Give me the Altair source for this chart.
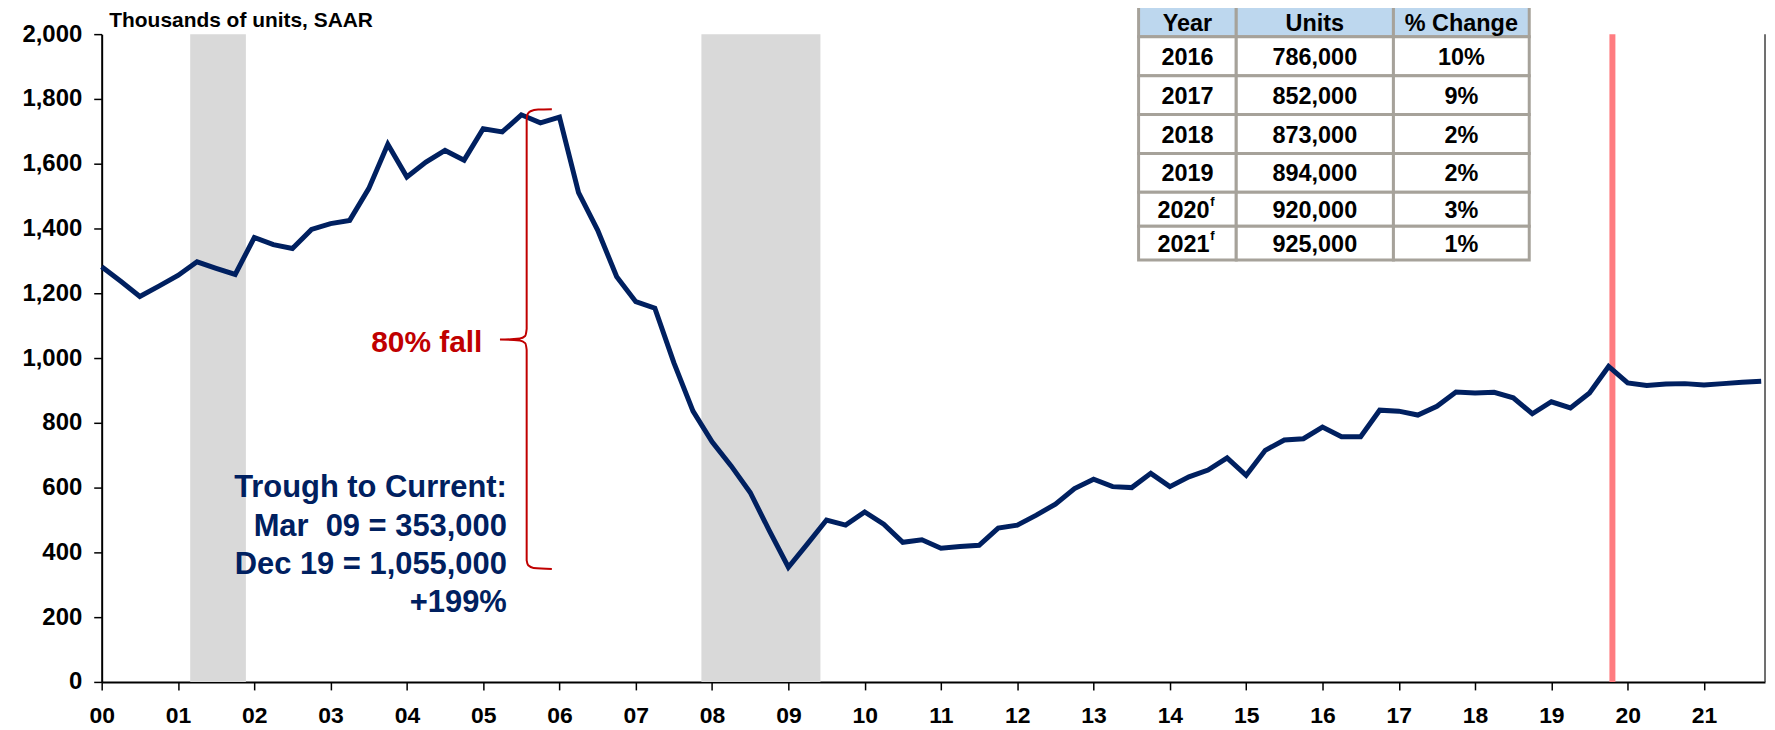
import altair as alt
import pandas as pd

# ---------------- data ----------------
first_year = 2000
housing_starts = [
    1282, 1237, 1190, 1222,   # 2000
    1255, 1297, 1277, 1258,   # 2001
    1372, 1350, 1338, 1397,   # 2002
    1415, 1425, 1523, 1660,   # 2003
    1559, 1605, 1641, 1611,   # 2004
    1708, 1698, 1751, 1726,   # 2005
    1744, 1511, 1395, 1251,   # 2006
    1174, 1154, 985, 836,     # 2007
    741, 667, 585, 467,       # 2008
    354, 426, 500, 484,       # 2009
    525, 487, 431, 439,       # 2010
    413, 418, 422, 475,       # 2011
    484, 515, 549, 597,       # 2012
    626, 603, 600, 644,       # 2013
    603, 633, 654, 692,       # 2014
    638, 715, 747, 751,       # 2015
    787, 757, 757, 839,       # 2016
    836, 824, 851, 895,       # 2017
    892, 894, 877, 828,       # 2018
    865, 846, 892, 974,       # 2019
    923, 915, 920, 921,       # 2020
    917, 921, 925, 928,       # 2021
]

recession_start = [1.16, 7.86]
recession_end = [1.89, 9.42]
marker_year = [19.8]

tick_years = list(range(22))
y_ticks = list(range(0, 2001, 200))

table_header = ["Year", "Units", "% Change"]
table_years = ["2016", "2017", "2018", "2019", "2020", "2021"]
table_forecast = [False, False, False, False, True, True]
table_units = ["786,000", "852,000", "873,000", "894,000", "920,000", "925,000"]
table_pct = ["10%", "9%", "2%", "2%", "3%", "1%"]

title_text = "Thousands of units, SAAR"
fall_text = "80% fall"
trough_lines = ["Trough to Current:", "Mar\u00a0\u00a009 = 353,000", "Dec 19 = 1,055,000", "+199%"]

# annotation geometry (data units: years since 2000, thousands of units)
brace_x = [5.90, 5.72, 5.62, 5.58, 5.57, 5.57, 5.55, 5.48, 5.22, 5.48, 5.55, 5.57, 5.57, 5.59, 5.66, 5.90]
brace_y = [1768, 1767, 1762, 1752, 1735, 1090, 1068, 1060, 1057, 1054, 1046, 1025, 375, 360, 352, 349]
table_col_edges = [13.59, 14.87, 16.93, 18.71]
table_row_edges = [2090, 1991.7, 1871.7, 1751.7, 1631.7, 1511.7, 1407.1, 1302.5]

X_MAX = 21.8
Y_MAX = 2000
FONT = "Liberation Sans"
NAVY = "#002060"
RED = "#C00000"

# ---------------- frames ----------------
line_df = pd.DataFrame({"t": [i / 4 for i in range(len(housing_starts))], "v": housing_starts})
rec_df = pd.DataFrame({"t": recession_start, "t2": recession_end, "v": [0] * 2, "v2": [Y_MAX] * 2})
mark_df = pd.DataFrame({"t": marker_year, "v": [0], "v2": [Y_MAX]})
border_df = pd.DataFrame({"t": [X_MAX], "v": [0], "v2": [Y_MAX]})
brace_df = pd.DataFrame({"t": brace_x, "v": brace_y, "o": list(range(len(brace_x)))})

cells = []
texts = []
fc_texts = []
rows = [table_header] + [[y, u, p] for y, u, p in zip(table_years, table_units, table_pct)]
for r, row in enumerate(rows):
    for c, val in enumerate(row):
        cells.append({
            "t": table_col_edges[c], "t2": table_col_edges[c + 1],
            "v": table_row_edges[r], "v2": table_row_edges[r + 1],
            "fill": "#BDD7EE" if r == 0 else "#FFFFFF",
        })
        if r == 0:
            yc = 2030
        else:
            yc = (table_row_edges[r] + table_row_edges[r + 1]) / 2 - 5
        xc = (table_col_edges[c] + table_col_edges[c + 1]) / 2
        is_fc = (r > 0 and c == 0 and table_forecast[r - 1])
        if is_fc:
            fc_texts.append({"t": xc, "v": yc, "label": val, "sup": "f"})
        else:
            texts.append({"t": xc, "v": yc, "label": val})
cells_df = pd.DataFrame(cells)
texts_df = pd.DataFrame(texts)
fc_df = pd.DataFrame(fc_texts)


def X(field="t"):
    return alt.X(
        f"{field}:Q",
        scale=alt.Scale(domain=[0, X_MAX], nice=False, zero=False),
        title=None,
        axis=alt.Axis(
            values=tick_years,
            labelExpr="datum.value < 10 ? '0' + datum.value : '' + datum.value",
            grid=False, tickSize=8, tickWidth=1.5, tickColor="black",
            domainColor="black", domainWidth=2,
            labelFont=FONT, labelFontSize=23, labelFontWeight="bold", labelColor="black",
            labelPadding=15, labelFlush=False, labelOverlap=False,
        ),
    )


def Y(field="v"):
    return alt.Y(
        f"{field}:Q",
        scale=alt.Scale(domain=[0, Y_MAX], nice=False, zero=True),
        title=None,
        axis=alt.Axis(
            values=y_ticks, format=",d",
            grid=False, tickSize=8, tickWidth=1.5, tickColor="black",
            domainColor="black", domainWidth=2,
            labelFont=FONT, labelFontSize=24, labelFontWeight="bold", labelColor="black",
            labelPadding=12, labelOverlap=False,
        ),
    )


recessions = alt.Chart(rec_df).mark_rect(color="#D9D9D9").encode(
    x=X(), x2="t2:Q", y=Y(), y2="v2:Q")

marker = alt.Chart(mark_df).mark_rule(color="#FF7C80", strokeWidth=6).encode(
    x=X(), y=Y(), y2="v2:Q")

border = alt.Chart(border_df).mark_rule(color="#404040", strokeWidth=1.5).encode(
    x=X(), y=Y(), y2="v2:Q")

line = alt.Chart(line_df).mark_line(color=NAVY, strokeWidth=5, strokeJoin="miter").encode(
    x=X(), y=Y())

brace = alt.Chart(brace_df).mark_line(color=RED, strokeWidth=2, interpolate="monotone").encode(
    x=X(), y=Y(), order="o:Q")

fall = alt.Chart(pd.DataFrame({"t": [4.99], "v": [1020], "label": [fall_text]})).mark_text(
    font=FONT, fontSize=30, fontWeight="bold", color=RED, align="right", baseline="alphabetic"
).encode(x=X(), y=Y(), text="label:N")

trough = alt.Chart(pd.DataFrame({"t": [5.31], "v": [570]})).mark_text(
    text=trough_lines, lineHeight=38.5,
    font=FONT, fontSize=31, fontWeight="bold", color=NAVY, align="right", baseline="alphabetic"
).encode(x=X(), y=Y())

title = alt.Chart(pd.DataFrame({"t": [0.1], "v": [2040], "label": [title_text]})).mark_text(
    font=FONT, fontSize=21, fontWeight="bold", color="black", align="left", baseline="middle"
).encode(x=X(), y=Y(), text="label:N")

table_cells = alt.Chart(cells_df).mark_rect(stroke="#A6A29A", strokeWidth=3).encode(
    x=X(), x2="t2:Q", y=Y(), y2="v2:Q", fill=alt.Fill("fill:N", scale=None))

table_text = alt.Chart(texts_df).mark_text(
    font=FONT, fontSize=23.5, fontWeight="bold", color="black", align="center", baseline="middle"
).encode(x=X(), y=Y(), text="label:N")

table_fc = alt.Chart(fc_df).mark_text(
    font=FONT, fontSize=23.5, fontWeight="bold", color="black", align="center", baseline="middle",
    dx=-4
).encode(x=X(), y=Y(), text="label:N")

table_sup = alt.Chart(fc_df).mark_text(
    font=FONT, fontSize=13, fontWeight="bold", color="black", align="left", baseline="middle",
    dx=23, dy=-9
).encode(x=X(), y=Y(), text="sup:N")

chart = alt.layer(
    recessions, marker, border, line, brace, fall, trough, title,
    table_cells, table_text, table_fc, table_sup
).properties(
    width=1669, height=650,
    padding={"left": 94, "top": 25, "right": 2, "bottom": 45},
    autosize=alt.AutoSizeParams(type="none"),
).configure_view(stroke=None)

chart.save("out.html", embed_options={"renderer": "svg", "actions": False})
